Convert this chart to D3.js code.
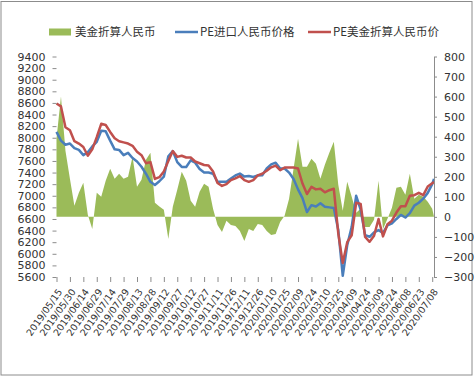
<!DOCTYPE html>
<html>
<head>
<meta charset="utf-8">
<script src="https://cdn.jsdelivr.net/npm/d3@7"></script>
<style>
  body { margin: 0; background: #fff; }
  text { font-family: "DejaVu Sans", sans-serif; fill: #333; }
  .legend text { font-family: "Noto Sans CJK SC", sans-serif; font-size: 11.5px; }
</style>
</head>
<body>
<svg id="chart" width="475" height="377"></svg>
<script>
// data, one point every 5 days
const dates = [
  "2019-05-15","2019-05-20","2019-05-25","2019-05-30","2019-06-04","2019-06-09","2019-06-14","2019-06-19","2019-06-24","2019-06-29",
  "2019-07-04","2019-07-09","2019-07-14","2019-07-19","2019-07-24","2019-07-29","2019-08-03","2019-08-08","2019-08-13","2019-08-18",
  "2019-08-23","2019-08-28","2019-09-02","2019-09-07","2019-09-12","2019-09-17","2019-09-22","2019-09-27","2019-10-02","2019-10-07",
  "2019-10-12","2019-10-17","2019-10-22","2019-10-27","2019-11-01","2019-11-06","2019-11-11","2019-11-16","2019-11-21","2019-11-26",
  "2019-12-01","2019-12-06","2019-12-11","2019-12-16","2019-12-21","2019-12-26","2019-12-31","2020-01-05","2020-01-10","2020-01-15",
  "2020-01-20","2020-01-25","2020-01-30","2020-02-04","2020-02-09","2020-02-14","2020-02-19","2020-02-24","2020-02-29","2020-03-05",
  "2020-03-10","2020-03-15","2020-03-20","2020-03-25","2020-03-30","2020-04-04","2020-04-09","2020-04-14","2020-04-19","2020-04-24",
  "2020-04-29","2020-05-04","2020-05-09","2020-05-14","2020-05-19","2020-05-24","2020-05-29","2020-06-03","2020-06-08","2020-06-13",
  "2020-06-18","2020-06-23","2020-06-28","2020-07-03","2020-07-08","2020-07-10"
];

// 美金折算人民币 (right axis)
const spread = [
  390, 600, 330, 190, 55, 120, 170, 10, -60, 120,
  100, 180, 240, 190, 215, 190, 200, 300, 150, 185,
  285, 320, 70, 52, 35, -110, 50, 135, 225, 180,
  80, 50, 125, 165, 150, 40, -40, -75, -20, -40,
  -45, -70, -120, -60, -70, -35, -40, -70, -90, -85,
  -25, 5, 90, 240, 390, 250, 250, 290, 265, 190,
  260, 320, 375, 160, 30, 175, 100, 20, 40, -50,
  -50, -15, 180, -60, -10, 45, 145, 150, 110, 215,
  90, 110, 100, 75, 40, 0
];

// PE进口人民币价格 (left axis)
const importPrice = [
  8100, 7950, 7880, 7900, 7820, 7790, 7700, 7750, 7850, 7930,
  8120, 8110, 7950, 7800, 7790, 7700, 7740, 7650, 7590, 7500,
  7380, 7240, 7185, 7250, 7330, 7680, 7770, 7580, 7497, 7497,
  7610, 7570, 7460, 7400, 7400, 7380, 7240, 7240, 7240, 7297,
  7350, 7383, 7330, 7340, 7325, 7350, 7354, 7470, 7540, 7570,
  7470, 7470, 7400, 7290, 7110, 6960, 6720, 6838, 6815, 6870,
  6810, 6800, 6790, 6410, 5620, 6150, 6465, 7000, 6760, 6322,
  6293, 6370, 6408, 6360, 6490, 6525, 6600, 6670, 6625, 6700,
  6830, 6880, 6950, 7050, 7200, 7290
];

// PE美金折算人民币价 (left axis)
const usdPrice = [
  8590, 8540, 8180, 8130, 7940, 7900, 7840, 7690, 7800, 8010,
  8240, 8220, 8100, 7990, 7940, 7920, 7900, 7860, 7760, 7700,
  7560, 7580, 7290, 7320, 7420, 7600, 7770, 7670, 7690, 7660,
  7660, 7590, 7560, 7530, 7520, 7420, 7220, 7170, 7200, 7270,
  7300, 7340, 7270, 7240, 7270, 7350, 7380, 7430, 7490, 7520,
  7440, 7486, 7486, 7486, 7470, 7210, 7030, 7153, 7110, 7120,
  7060, 7096, 7120, 6350, 5840, 6200, 6320, 6880, 6860, 6290,
  6207, 6310, 6600, 6300, 6510, 6570, 6710, 6820, 6820, 7000,
  7010, 7050, 7010, 7160, 7215, 7239
];

const leftTicks = [5600, 5800, 6000, 6200, 6400, 6600, 6800, 7000, 7200, 7400,
  7600, 7800, 8000, 8200, 8400, 8600, 8800, 9000, 9200, 9400];
const rightTicks = [-300, -200, -100, 0, 100, 200, 300, 400, 500, 600, 700, 800];
const xTickLabels = [
  "2019/05/15","2019/05/30","2019/06/14","2019/06/29","2019/07/14","2019/07/29","2019/08/13","2019/08/28",
  "2019/09/12","2019/09/27","2019/10/12","2019/10/27","2019/11/11","2019/11/26","2019/12/11","2019/12/26",
  "2020/01/10","2020/01/25","2020/02/09","2020/02/24","2020/03/10","2020/03/25","2020/04/09","2020/04/24",
  "2020/05/09","2020/05/24","2020/06/08","2020/06/23","2020/07/08"
];

const seriesNames = ["美金折算人民币", "PE进口人民币价格", "PE美金折算人民币价"];
const colors = ["#9BBB59", "#4A7EBB", "#C0504D"];

const parseDay = d3.timeParse("%Y-%m-%d");
const parseLabel = d3.timeParse("%Y/%m/%d");
const fmtLabel = d3.timeFormat("%Y/%m/%d");

const rows = dates.map((d, i) => ({
  date: parseDay(d),
  spread: spread[i],
  imp: importPrice[i],
  usd: usdPrice[i]
}));

const svg = d3.select("#chart");

// chart frame
svg.append("rect")
  .attr("x", 1).attr("y", 1.5)
  .attr("width", 471).attr("height", 373.5)
  .attr("fill", "#fff")
  .attr("stroke", "#8c8c8c");

const x = d3.scaleTime()
  .domain([parseDay("2019-05-15"), parseDay("2020-07-10")])
  .range([56.5, 434]);
const yL = d3.scaleLinear().domain([5600, 9400]).range([277, 56.5]);
const yR = d3.scaleLinear().domain([-300, 800]).range([277, 56.5]);

// green area against right axis
var area = d3.area()
  .x(d => x(d.date))
  .y0(yR(0))
  .y1(d => yR(d.spread));
svg.append("path")
  .datum(rows)
  .attr("d", area)
  .attr("fill", colors[0]);

var lineImp = d3.line().x(d => x(d.date)).y(d => yL(d.imp));
var lineUsd = d3.line().x(d => x(d.date)).y(d => yL(d.usd));

svg.append("path")
  .datum(rows)
  .attr("d", lineImp)
  .attr("fill", "none")
  .attr("stroke", colors[1])
  .attr("stroke-width", 2.5)
  .attr("stroke-linejoin", "round");

svg.append("path")
  .datum(rows)
  .attr("d", lineUsd)
  .attr("fill", "none")
  .attr("stroke", colors[2])
  .attr("stroke-width", 2.5)
  .attr("stroke-linejoin", "round");

// left axis
var gL = svg.append("g")
  .attr("transform", "translate(56.5,0)")
  .call(d3.axisLeft(yL).tickValues(leftTicks).tickSize(4).tickPadding(7).tickFormat(d3.format("d")));
gL.select(".domain").remove();
gL.selectAll("line").attr("stroke", "#8c8c8c");
gL.selectAll("text").style("font-size", "11px");

// right axis
var gR = svg.append("g")
  .attr("transform", "translate(434,0)")
  .call(d3.axisRight(yR).tickValues(rightTicks).tickSize(3).tickSizeOuter(0).tickPadding(7).tickFormat(d3.format("d")));
gR.select(".domain").attr("stroke", "#8c8c8c");
gR.selectAll("line").attr("stroke", "#8c8c8c");
gR.selectAll("text").style("font-size", "11px");

// bottom axis, rotated date labels
var gX = svg.append("g")
  .attr("transform", "translate(0,277)")
  .call(d3.axisBottom(x).tickValues(xTickLabels.map(parseLabel)).tickSize(5).tickFormat(fmtLabel));
gX.select(".domain").remove();
gX.selectAll("line").attr("stroke", "#8c8c8c");
gX.selectAll("text")
  .style("font-size", "9.5px")
  .attr("text-anchor", "end")
  .attr("x", 0).attr("y", 0).attr("dy", "0.35em")
  .attr("transform", "translate(3,13) rotate(-55)");

// legend
var legend = svg.append("g").attr("class", "legend");
var legendX = [49, 175, 308];
seriesNames.forEach(function (name, i) {
  var g = legend.append("g").attr("transform", "translate(" + legendX[i] + ",32)");
  if (i == 0) {
    g.append("rect").attr("x", 0).attr("y", -3.5).attr("width", 22).attr("height", 7).attr("fill", colors[0]);
  } else {
    g.append("line").attr("x1", 0).attr("x2", 23).attr("y1", 0).attr("y2", 0)
      .attr("stroke", colors[i]).attr("stroke-width", 2.5);
  }
  g.append("text").attr("x", i == 0 ? 26 : 25).attr("y", 0).attr("dy", "0.36em").text(name);
});
</script>
</body>
</html>
